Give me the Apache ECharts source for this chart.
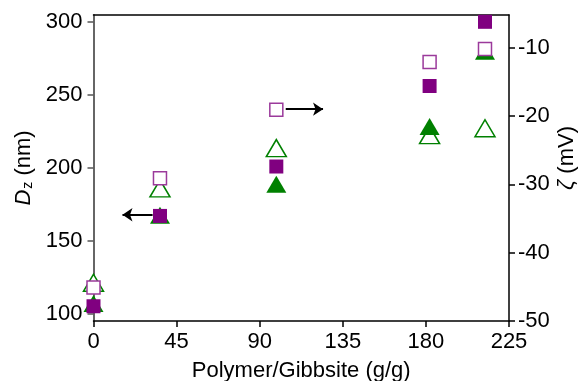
<!DOCTYPE html>
<html lang="en">

<head>
    <meta charset="UTF-8">
    <title>Dz and zeta vs polymer/gibbsite</title>
    <script src="https://cdn.jsdelivr.net/npm/echarts@6/dist/echarts.min.js"></script>
    <style>
        html, body { margin: 0; padding: 0; background: #fff; }
    </style>
</head>

<body>
    <div id="main" style="width: 579px;height:381px;"></div>
    <script type="text/javascript">
        // polymer/gibbsite ratio (g/g)
        var ratios = [0, 36, 99, 182, 212];
        // Dz (nm), left axis
        var dzSquare = [105.3, 167.1, 200.9, 256, 299.9];
        var dzTriangle = [107.2, 167.5, 188.8, 228.2, 279.8];
        // zeta potential (mV), right axis
        var zetaSquare = [-45.1, -29.1, -19.1, -12.1, -10.2];
        var zetaTriangle = [-44.4, -30.6, -24.7, -22.8, -21.8];

        var xTicks = [0, 45, 90, 135, 180, 225];
        var dzTicks = [100, 150, 200, 250, 300];
        var zetaTicks = [-50, -40, -30, -20, -10];

        function pairs(ys) {
            return ratios.map(function (x, i) { return [x, ys[i]]; });
        }

        var purple = '#800080';
        var green = '#008000';
        var font = 'Liberation Sans, Arial, sans-serif';

        var chart = echarts.init(document.getElementById('main'));

        var option = {
            animation: false,
            textStyle: { fontFamily: font },
            grid: { left: 93.5, right: 70, top: 15, bottom: 60,
                containLabel: false, outerBoundsMode: 'none' },
            xAxis: [{
                type: 'value',
                min: 0, max: 225, interval: 45,
                splitLine: { show: false },
                axisLine: { onZero: false, lineStyle: { color: '#000', width: 1.5 } },
                axisTick: { inside: false, length: 6, lineStyle: { color: '#000', width: 1.5 } },
                axisLabel: { color: '#000', fontSize: 22, margin: 10,
                    customValues: xTicks },
                name: 'Polymer/Gibbsite (g/g)',
                nameLocation: 'middle',
                nameGap: 39,
                nameMoveOverlap: false,
                nameTextStyle: { color: '#000', fontSize: 22 }
            }, {
                type: 'value', position: 'top',
                min: 0, max: 225,
                splitLine: { show: false },
                axisLine: { onZero: false, lineStyle: { color: '#000', width: 1.5 } },
                axisTick: { show: false },
                axisLabel: { show: false }
            }],
            yAxis: [{
                type: 'value',
                position: 'left',
                min: 95.21, max: 304.56,
                splitLine: { show: false },
                axisLine: { show: true, onZero: false, lineStyle: { color: '#666', width: 2 } },
                axisTick: { show: true, inside: false, length: 6, customValues: dzTicks,
                    lineStyle: { color: '#555', width: 1.5 } },
                axisLabel: { color: '#000', fontSize: 22, margin: 11,
                    customValues: dzTicks },
                name: '{i|D}{s|z} (nm)',
                nameLocation: 'middle',
                nameRotate: 90,
                nameGap: 58,
                nameMoveOverlap: false,
                nameTextStyle: {
                    color: '#000', fontSize: 22,
                    rich: {
                        i: { fontStyle: 'italic', fontSize: 22, color: '#000' },
                        s: { fontSize: 14, color: '#000', padding: [10, 0, 0, 1] }
                    }
                }
            }, {
                type: 'value',
                position: 'right',
                min: -50, max: -5.22,
                splitLine: { show: false },
                axisLine: { show: true, onZero: false, lineStyle: { color: '#000', width: 1.5 } },
                axisTick: { show: true, inside: false, length: 6, customValues: zetaTicks,
                    lineStyle: { color: '#000', width: 1.5 } },
                axisLabel: { color: '#000', fontSize: 22, margin: 9,
                    customValues: zetaTicks },
                name: '{i|ζ} (mV)',
                nameLocation: 'middle',
                nameRotate: 90,
                nameGap: 47,
                nameMoveOverlap: false,
                nameTextStyle: {
                    color: '#000', fontSize: 22,
                    padding: [0, 0, 0, 20],
                    rich: {
                        i: { fontStyle: 'italic', fontSize: 22, color: '#000' }
                    }
                }
            }],
            series: [{
                name: 'zeta triangle',
                type: 'scatter',
                yAxisIndex: 1,
                symbol: 'triangle',
                symbolSize: [20, 17],
                itemStyle: { color: '#fff', borderColor: green, borderWidth: 1.5, opacity: 1 },
                data: pairs(zetaTriangle)
            }, {
                name: 'Dz triangle',
                type: 'scatter',
                yAxisIndex: 0,
                symbol: 'triangle',
                symbolSize: [20, 17],
                itemStyle: { color: green, opacity: 1 },
                data: pairs(dzTriangle)
            }, {
                name: 'zeta square',
                type: 'scatter',
                yAxisIndex: 1,
                symbol: 'rect',
                symbolSize: 13,
                itemStyle: { color: '#fff', borderColor: '#9b3a9b', borderWidth: 1.5, opacity: 1 },
                data: pairs(zetaSquare),
                markLine: {
                    silent: true,
                    symbol: ['none', 'arrow'],
                    symbolSize: 10,
                    label: { show: false },
                    lineStyle: { color: '#000', width: 2, type: 'solid' },
                    data: [[{ coord: [104.1, -19.0] }, { coord: [124.3, -19.0] }]]
                }
            }, {
                name: 'Dz square',
                type: 'scatter',
                yAxisIndex: 0,
                symbol: 'rect',
                symbolSize: 14,
                itemStyle: { color: purple, opacity: 1 },
                data: pairs(dzSquare),
                markLine: {
                    silent: true,
                    symbol: ['none', 'arrow'],
                    symbolSize: 10,
                    label: { show: false },
                    lineStyle: { color: '#000', width: 2, type: 'solid' },
                    data: [[{ coord: [32, 167.9] }, { coord: [15.7, 167.9] }]]
                }
            }]
        };

        chart.setOption(option);
    </script>
</body>

</html>
